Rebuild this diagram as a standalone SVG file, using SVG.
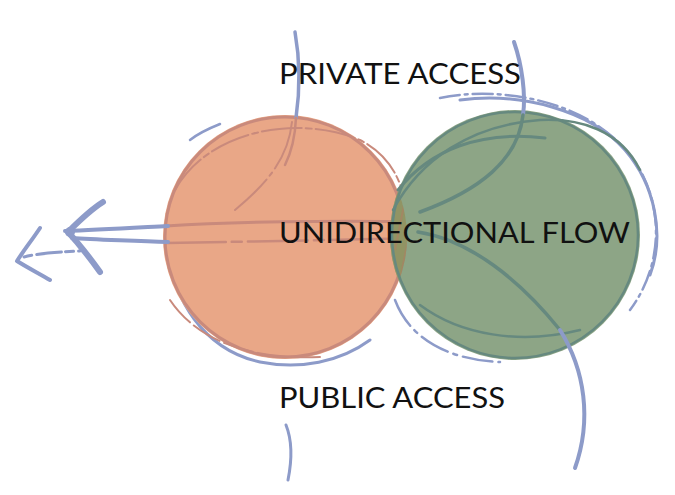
<svg xmlns="http://www.w3.org/2000/svg" width="675" height="495" viewBox="0 0 675 495">
<style>
.lbl{font-family:Lato,"Open Sans","Liberation Sans",sans-serif;font-size:29px;fill:#111}
.blue{fill:none;stroke:#8d9bc9;stroke-linecap:round;stroke-linejoin:round}
.ostk{fill:none;stroke:#c98a7c;stroke-linecap:round}
.gstk{fill:none;stroke:#66897f;stroke-linecap:round}
</style>
<defs>
<clipPath id="clipO"><circle cx="285" cy="237" r="122"/></clipPath>
</defs>
<rect width="675" height="495" fill="#fff"/>
<g id="connectors">
<path class="blue" stroke-width="3" d="M168 240 C170 300 205 350 260 362 C300 370 340 362 370 340"/>
<path class="blue" stroke-width="2.5" stroke-dasharray="30 6 4 6" d="M395 300 C410 340 450 360 500 362"/>
<path class="blue" stroke-width="3" d="M460 100 C520 92 590 110 625 150 C655 185 665 235 650 275"/>
<path class="blue" stroke-width="2.5" stroke-dasharray="20 5 3 5" d="M440 98 C500 85 600 100 640 170 C665 215 660 270 630 310"/>
<path class="blue" stroke-width="2.5" d="M190 140 C200 132 210 128 220 124"/>
</g>
<g id="node-public">
<circle cx="285" cy="237" r="122" fill="#e9a787"/>
<circle class="ostk" cx="285" cy="237" r="120" stroke-width="3"/>
<path class="ostk" stroke-width="2" stroke-dasharray="40 4 6 4" d="M175 190 C210 128 300 115 360 140 C390 155 400 180 405 200"/>
<path class="ostk" stroke-width="2" stroke-dasharray="50 5 4 5" d="M292 122 C288 160 265 185 235 210"/>
<path class="ostk" stroke-width="3" d="M166 226 C230 222 330 220 420 222"/>
<path class="ostk" stroke-width="2.5" stroke-dasharray="60 6 10 6" d="M166 243 C230 242 330 240 420 238"/>
<path class="ostk" stroke-width="2" stroke-dasharray="30 5" d="M170 300 C200 345 260 360 320 357"/>
</g>
<g id="node-private">
<circle cx="515" cy="235" r="125" fill="#8da586"/>
<circle cx="515" cy="235" r="125" fill="#919262" fill-opacity="0.95" clip-path="url(#clipO)"/>
<g clip-path="url(#clipO)">
<path stroke="#b07c62" stroke-width="2" fill="none" opacity="0.55" d="M395 250 L405 200 M400 280 L410 230 M398 300 L412 250 M405 320 L415 270"/>
</g>
<circle class="gstk" cx="515" cy="235" r="123" stroke-width="2.5"/>
<path class="gstk" stroke-width="3" d="M398 190 C430 150 480 130 545 138"/>
<path class="gstk" stroke-width="2.5" d="M393 210 C420 160 470 125 540 120 C580 118 620 130 640 170"/>
<path class="gstk" stroke-width="2.5" d="M420 305 C460 335 520 345 580 330"/>
</g>
<g id="connectors-front">
<path class="blue" stroke-width="4" d="M168 226 C130 228 95 230 65 231"/>
<path class="blue" stroke-width="4" d="M168 242 C130 240 95 240 72 238"/>
<path class="blue" stroke-width="6" d="M103 202 C90 210 78 222 68 232 C80 245 90 258 100 272"/>
<circle cx="70" cy="232" r="5" fill="#8d9bc9"/>
<path class="blue" stroke-width="4" d="M40 228 C32 240 24 250 17 261 C28 268 40 274 50 280"/>
<path class="blue" stroke-width="3" stroke-dasharray="8 5 25 4" d="M24 257 C40 253 60 252 80 251"/>
<path class="blue" stroke-width="3.5" d="M295 32 C300 60 300 90 296 118"/>
<path class="ostk" stroke-width="2.5" d="M296 118 C295 140 290 155 285 165"/>
<path class="blue" stroke-width="3" d="M286 425 C292 440 292 460 288 480"/>
<path class="blue" stroke-width="4" d="M514 42 C522 65 526 95 523 115"/>
<path class="gstk" stroke-width="3.5" d="M523 115 C518 160 480 190 420 212"/>
<path class="gstk" stroke-width="3.5" d="M418 232 C470 240 520 280 560 330"/>
<path class="blue" stroke-width="4" d="M560 330 C585 370 592 420 575 468"/>
</g>
<g id="label-private"><text class="lbl" x="279" y="84" textLength="242" lengthAdjust="spacingAndGlyphs">PRIVATE ACCESS</text></g>
<g id="label-flow"><text class="lbl" x="279" y="243" textLength="351" lengthAdjust="spacingAndGlyphs">UNIDIRECTIONAL FLOW</text></g>
<g id="label-public"><text class="lbl" x="279" y="408" textLength="226" lengthAdjust="spacingAndGlyphs">PUBLIC ACCESS</text></g>
</svg>
